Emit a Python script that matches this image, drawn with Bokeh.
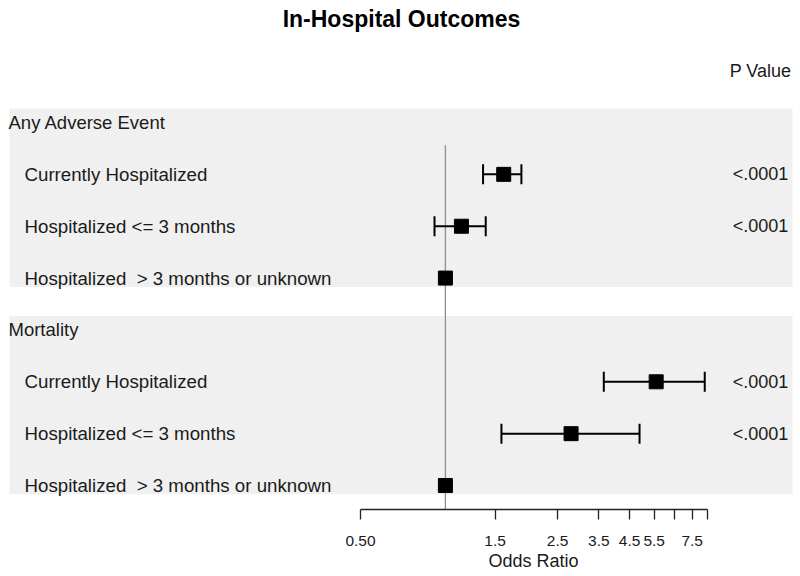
import numpy as np
from bokeh.plotting import figure
from bokeh.models import Range1d, FixedTicker, Label, Title
from bokeh.embed import file_html
from bokeh.resources import INLINE

# ---------------- data ----------------
chart_title = "In-Hospital Outcomes"
pvalue_header = "P Value"
x_label = "Odds Ratio"
groups = ["Any Adverse Event", "Mortality"]
subgroups = ["Currently Hospitalized", "Hospitalized <= 3 months",
             "Hospitalized\u00a0 > 3 months or unknown"]
or_ae = [1.61, 1.14, 1.00]
lo_ae = [1.36, 0.915, None]
hi_ae = [1.86, 1.39, None]
or_mort = [5.59, 2.79, 1.00]
lo_mort = [3.645, 1.58, None]
hi_mort = [8.31, 4.88, None]
p_ae = ["<.0001", "<.0001", ""]
p_mort = ["<.0001", "<.0001", ""]
tick_values = [0.5, 1.5, 2.5, 3.5, 4.5, 5.5, 6.5, 7.5, 8.5]
tick_labels = ["0.50", "1.5", "2.5", "3.5", "4.5", "5.5", "", "7.5", ""]

# ---------------- layout ----------------
FONT = "Liberation Sans"
TXT = "#1a1a1a"
W, H = 800, 576
FH = 509                     # frame height (axis line position)
PX_PER_LN = 122.48           # horizontal scale of the log axis
X0_PX = 360                  # screen x of the 0.5 tick
x_start = 0.5 * np.exp(-X0_PX / PX_PER_LN)
x_end = 0.5 * np.exp((W - X0_PX) / PX_PER_LN)
band_l = 0.5 * np.exp((9 - X0_PX) / PX_PER_LN)
band_r = 0.5 * np.exp((792 - X0_PX) / PX_PER_LN)
ROW_PX = 51.86
ROW0_PX = 122                # screen y of row 0
y_top = -ROW0_PX / ROW_PX
y_bot = (FH - ROW0_PX) / ROW_PX
CAP = 10 / ROW_PX            # half height of whisker caps

p = figure(width=W, height=H, x_axis_type="log",
           x_range=Range1d(x_start, x_end), y_range=Range1d(y_bot, y_top),
           output_backend="svg", toolbar_location=None, min_border=0,
           min_border_bottom=H - FH,
           y_axis_location=None, outline_line_color=None,
           background_fill_color="white", border_fill_color="white")
p.grid.visible = False

all_or = [or_ae, or_mort]
all_lo = [lo_ae, lo_mort]
all_hi = [hi_ae, hi_mort]
all_p = [p_ae, p_mort]

# background bands
for g in range(len(groups)):
    p.quad(left=band_l, right=band_r, top=4 * g - 0.27, bottom=4 * g + 3.17,
           fill_color="#f0f0f0", line_color=None)

# reference line at OR = 1
p.segment(x0=[1.0], x1=[1.0], y0=[0.44], y1=[y_bot], line_color="#8f8f8f",
          line_width=1.3)

pts_x, pts_y, ci_y, ci_lo, ci_hi = [], [], [], [], []
for g in range(len(groups)):
    for i in range(len(subgroups)):
        row = 4 * g + 1 + i
        pts_x.append(all_or[g][i])
        pts_y.append(row)
        if all_lo[g][i] is not None:
            ci_y.append(row)
            ci_lo.append(all_lo[g][i])
            ci_hi.append(all_hi[g][i])

ci_y = np.array(ci_y, dtype=float)
# confidence interval lines and caps
p.segment(x0=ci_lo, x1=ci_hi, y0=ci_y, y1=ci_y, line_color="black", line_width=2)
p.segment(x0=ci_lo, x1=ci_lo, y0=ci_y - CAP, y1=ci_y + CAP, line_color="black",
          line_width=2)
p.segment(x0=ci_hi, x1=ci_hi, y0=ci_y - CAP, y1=ci_y + CAP, line_color="black",
          line_width=2)

p.scatter(x=pts_x, y=pts_y, marker="square", size=14, fill_color="black",
          line_color="black")

# text labels
for g, gname in enumerate(groups):
    p.add_layout(Label(x=8, y=4 * g, x_units="screen", y_units="data", text=gname,
                       text_font=FONT, text_font_size="18.5px", text_color=TXT,
                       text_baseline="middle", text_align="left"))
    for i, sname in enumerate(subgroups):
        row = 4 * g + 1 + i
        p.add_layout(Label(x=24, y=row, x_units="screen", y_units="data", text=sname,
                           text_font=FONT, text_font_size="18.7px", text_color=TXT,
                           text_baseline="middle", text_align="left"))
        if all_p[g][i]:
            p.add_layout(Label(x=760, y=row, x_units="screen", y_units="data",
                               text=all_p[g][i], text_font=FONT,
                               text_font_size="18px", text_color=TXT,
                               text_baseline="middle", text_align="center"))

p.add_layout(Label(x=760, y=-1.0, x_units="screen", y_units="data", text=pvalue_header,
                   text_font=FONT, text_font_size="18px", text_color=TXT,
                   text_baseline="middle", text_align="center"))
p.add_layout(Label(x=401, y=-2.0, x_units="screen", y_units="data", text=chart_title,
                   text_font=FONT, text_font_size="23px", text_font_style="bold",
                   text_color="black", text_baseline="middle", text_align="center"))

# x axis
ax = p.xaxis[0]
ax.ticker = FixedTicker(ticks=tick_values, minor_ticks=[])
ax.major_label_overrides = {v: l for v, l in zip(tick_values, tick_labels)}
ax.bounds = (tick_values[0], tick_values[-1])
ax.axis_line_color = "#222222"
ax.axis_line_width = 1.3
ax.major_tick_line_color = "#222222"
ax.major_tick_line_width = 1.3
ax.major_tick_out = 10
ax.major_tick_in = 0
ax.minor_tick_line_color = None
ax.major_label_text_font = FONT
ax.major_label_text_font_size = "15.5px"
ax.major_label_text_color = TXT
ax.major_label_standoff = 16

# axis title, centred under the axis span (left edge at x = 488 px)
p.add_layout(Title(text=x_label, align="left", offset=488, standoff=0,
                   text_font=FONT, text_font_size="18px", text_font_style="normal",
                   text_color=TXT), "below")

open("out.html", "w").write(file_html(p, INLINE))
